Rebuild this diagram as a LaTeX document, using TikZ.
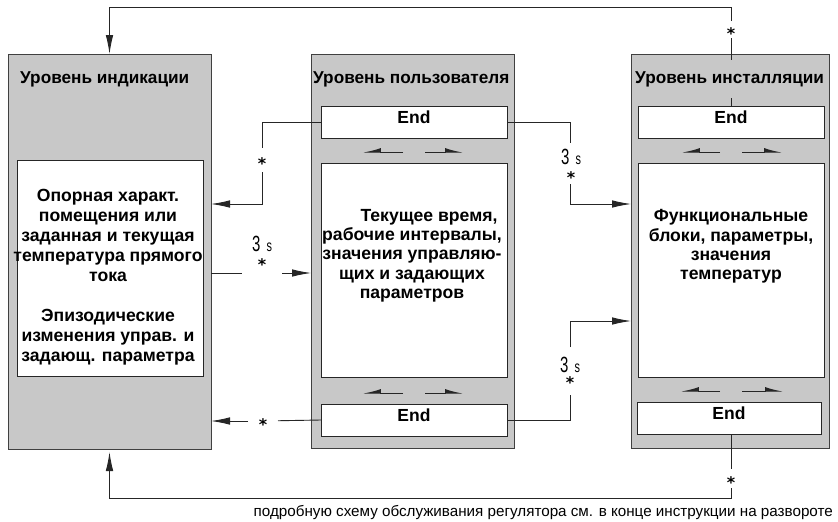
\documentclass[tikz,border=0pt]{standalone}
\usepackage{fontspec}
\setmainfont{Liberation Sans}
\newfontfamily\dejavu{DejaVu Sans}
\usetikzlibrary{arrows.meta}
\definecolor{panelgray}{HTML}{C8C8C8}
\definecolor{edgegray}{HTML}{404040}
\definecolor{wiregray}{HTML}{262626}
\newcommand\starglyph{\smash{\raisebox{-0.6em}{*}}}
\newcommand\secslabel{\scalebox{0.68}[1]{\fontsize{22}{22}\selectfont 3\hspace{9pt}{\fontsize{16}{16}\selectfont s}}}
\begin{document}
\begin{tikzpicture}[x=1pt,y=-1pt,
  panel/.style={draw=edgegray, line width=1pt, fill=panelgray, anchor=north west, inner sep=0pt, outer sep=0pt},
  whitebox/.style={draw=black!85, line width=0.9pt, fill=white, anchor=north west, inner sep=0pt, outer sep=0pt, minimum width=186pt},
  endbox/.style={whitebox, minimum height=32pt, font=\fontsize{17.5}{17.5}\selectfont\bfseries, text height=12pt, text depth=10pt},
  title/.style={font=\fontsize{17.2}{20}\selectfont\bfseries, anchor=west, fill=panelgray, inner xsep=0pt, inner ysep=11pt},
  body/.style={font=\fontsize{17.6}{20}\selectfont\bfseries, align=center, inner sep=0pt},
  wire/.style={draw=wiregray, line width=0.9pt},
  arr/.style={wire, -{Latex[length=19pt,width=7.5pt]}},
  starnode/.style={font=\dejavu\bfseries\fontsize{16}{16}\selectfont, inner sep=0pt, outer sep=0pt},
  gapnode/.style={inner sep=0pt, outer sep=0pt, minimum size=0pt},
  secs/.style={inner sep=0pt},
  harpL/.style={wire, line width=1pt, -{Latex[harpoon,swap,length=15pt,width=8pt]}},
  harpR/.style={wire, line width=1pt, -{Latex[harpoon,length=15pt,width=8pt]}},
]
\useasboundingbox (0,0) rectangle (838,522);
\fill[white] (0,0) rectangle (838,522);

% panels
\node[panel, minimum width=203pt, minimum height=395pt] (lp) at (8,54) {};
\node[panel, minimum width=203pt, minimum height=394pt] (mp) at (311,54) {};
\node[panel, minimum width=198pt, minimum height=394pt] (rp) at (631,54) {};

% inner boxes
\node[whitebox, minimum height=216pt] (lIn) at (17,160) {};
\node[endbox] (mEndT) at (321,106) {End};
\node[whitebox, minimum height=214pt] (mIn) at (321,163) {};
\node[endbox] (mEndB) at (321,404) {End};
\node[endbox] (rEndT) at (638,106) {End};
\node[whitebox, minimum height=214pt] (rIn) at (638,163) {};
\node[endbox, minimum width=184pt] (rEndB) at (637,402) {End};

% texts
\node[body] (lText) at (108,277) {Опорная характ.\\помещения или\\заданная и текущая\\температура прямого\\тока\\[20pt]Эпизодические\hspace*{18pt}\\изменения управ. и\\задающ. параметра};
\node[body, font=\fontsize{17.6}{19.3}\selectfont\bfseries] (mText) at (412,255.5) {\hspace*{34pt}Текущее время,\\рабочие интервалы,\\значения управляю-\\щих и задающих\\параметров};
\node[body, font=\fontsize{17.6}{19.3}\selectfont\bfseries] (rText) at (731,246.5) {Функциональные\\блоки, параметры,\\значения\\температур};

% small scroll arrows
\draw[harpL] (403,152) -- (363,152);
\draw[harpR] (425,152) -- (463,152);
\draw[harpL] (403,393) -- (363,393);
\draw[harpR] (425,393) -- (463,393);
\draw[harpL] (720,152) -- (682,152);
\draw[harpR] (742,152) -- (782,152);
\draw[harpL] (720,391) -- (681,391);
\draw[harpR] (742,391) -- (783,391);

% gap / star nodes
\node[starnode, minimum height=17pt] (sTop) at (731,29.5) {\starglyph};
\node[starnode, minimum height=19pt] (sBot) at (731,478.5) {\starglyph};
\node[starnode, minimum height=24pt] (s3) at (262,160) {\starglyph};
\node[gapnode, minimum width=40pt] (g4) at (262,273) {};
\node[secs] (t4) at (262,244) {\secslabel};
\node[starnode] (s4) at (262,261) {\starglyph};
\node[gapnode, minimum height=41pt] (g5) at (570,163.5) {};
\node[secs] (t5) at (571,157) {\secslabel};
\node[starnode] (s5) at (571,174) {\starglyph};
\node[gapnode, minimum height=48pt] (g6) at (570,371) {};
\node[secs] (t6) at (570,365) {\secslabel};
\node[starnode] (s6) at (570,379) {\starglyph};
\node[starnode, minimum width=30pt] (s7) at (263,421) {\starglyph};
\coordinate (topR) at (731,7);
\coordinate (botR) at (731,498);

% connectors
\draw[wire] (rEndT.north) -- (sTop);
\draw[arr] (sTop) -- (topR) -| (lp.north);
\draw[wire] (sBot |- rEndB.south) -- (sBot);
\draw[arr] (sBot) -- (botR) -| ([yshift=-3pt]lp.south);
\draw[wire] (mEndT.west) -| (s3);
\draw[arr] (s3) |- ([yshift=47.5pt]lp.east);
\draw[wire] (lp.east |- g4) -- (g4);
\draw[arr] (g4) -- (mp.west |- g4);
\draw[wire] (mEndT.east) -| (g5);
\draw[arr] (g5) |- ([yshift=47pt]rp.west);
\draw[wire] (mEndB.east) -| (g6);
\draw[arr] (g6) |- ([yshift=-70pt]rp.west);
\draw[wire] (mEndB.west) -- (s7);
\draw[arr] (s7) -- (lp.east |- s7);

% titles (drawn last so they mask the line through the panel head)
\node[title] (lTitle) at (20,79) {Уровень индикации};
\node[title] (mTitle) at (313,79) {Уровень пользователя};
\node[title] (rTitle) at (635,79) {Уровень инсталляции};

% footnote
\node[anchor=base east, inner sep=0pt, font=\fontsize{15.2}{15.2}\selectfont] (foot) at (833,516) {подробную схему обслуживания регулятора см. в конце инструкции на развороте};
\end{tikzpicture}
\end{document}
